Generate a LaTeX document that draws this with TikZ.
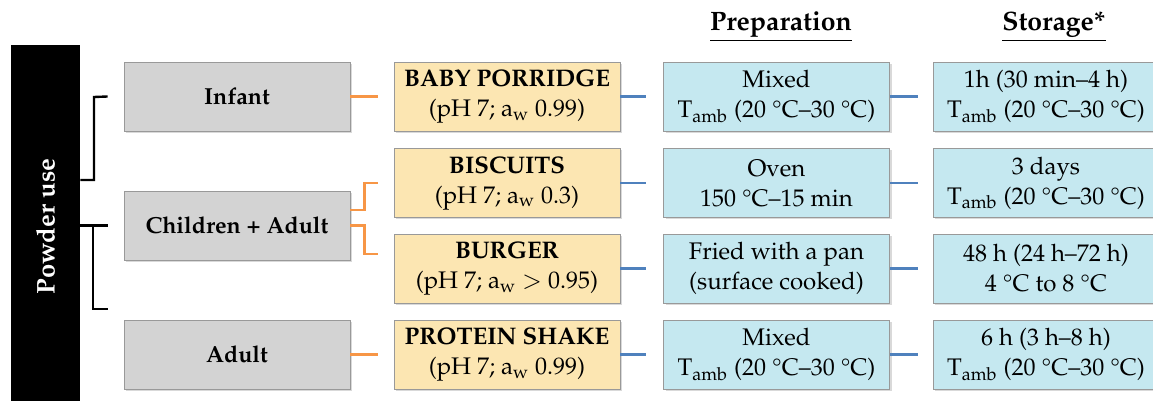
\documentclass[tikz,border=0pt]{standalone}
\usepackage[T1]{fontenc}
\usepackage{mathpazo}
\usepackage{tikz}
\usetikzlibrary{shadows}
\definecolor{boxgray}{RGB}{211,211,211}
\definecolor{boxyellow}{RGB}{252,230,178}
\definecolor{boxblue}{RGB}{197,232,240}
\definecolor{lineorange}{RGB}{247,150,70}
\definecolor{lineblue}{RGB}{79,129,189}

\begin{document}
\begin{tikzpicture}[x=0.5pt, y=-0.5pt,
		font=\fontsize{12}{15}\selectfont,
		box/.style={draw=black!40, minimum width=113pt, minimum height=34.5pt,
			align=center, inner sep=0pt,
			drop shadow={shadow xshift=1pt, shadow yshift=-1pt, opacity=0.3}},
		brk/.style={line width=1.2pt, black},
		org/.style={line width=1.2pt, lineorange},
		blu/.style={line width=1.2pt, lineblue}]
			\useasboundingbox (0,0) rectangle (1153,401);

			\node [fill=black, minimum width=34.5pt, minimum height=185pt, inner sep=0pt] (bar) at (45.5,230) {};
			\node [rotate=90, white, font=\fontsize{12.8}{15}\selectfont\bfseries] (pw) at (bar.center |- 0,226.5) {Powder use};

			\node [font=\fontsize{13.3}{16}\selectfont] (hprep) at (781,27) {\underline{\textbf{Preparation}}};
			\node [font=\fontsize{13.3}{16}\selectfont] (hsto) at (1054,27) {\underline{\textbf{Storage*}}};

			\node [box, fill=boxgray, font=\fontsize{11.6}{15}\selectfont\bfseries] (inf) at (237,96.5) {Infant};
			\node [box, fill=boxgray, font=\fontsize{11.6}{15}\selectfont\bfseries] (ca) at (237,225.5) {Children + Adult};
			\node [box, fill=boxgray, font=\fontsize{11.6}{15}\selectfont\bfseries] (adu) at (237,354.5) {Adult};

			\node [box, fill=boxyellow] (bp) at (507,96.5) {\textbf{BABY PORRIDGE}\\(pH 7; a\textsubscript{w} 0.99)};
			\node [box, fill=boxyellow] (bis) at (507,183) {\textbf{BISCUITS}\\(pH 7; a\textsubscript{w} 0.3)};
			\node [box, fill=boxyellow] (bur) at (507,268.5) {\textbf{BURGER}\\(pH 7; a\textsubscript{w} $>$ 0.95)};
			\node [box, fill=boxyellow] (ps) at (507,354.5) {\textbf{PROTEIN SHAKE}\\(pH 7; a\textsubscript{w} 0.99)};

			\node [box, fill=boxblue] (mix1) at (776.5,96.5) {Mixed\\T\textsubscript{amb} (20 \textdegree C--30 \textdegree C)};
			\node [box, fill=boxblue] (oven) at (776.5,183) {Oven\\150 \textdegree C--15 min};
			\node [box, fill=boxblue] (fry) at (776.5,268.5) {Fried with a pan\\(surface cooked)};
			\node [box, fill=boxblue] (mix2) at (776.5,354.5) {Mixed\\T\textsubscript{amb} (20 \textdegree C--30 \textdegree C)};

			\node [box, fill=boxblue] (st1) at (1046,96.5) {1h (30 min--4 h)\\T\textsubscript{amb} (20 \textdegree C--30 \textdegree C)};
			\node [box, fill=boxblue] (st2) at (1046,183) {3 days\\T\textsubscript{amb} (20 \textdegree C--30 \textdegree C)};
			\node [box, fill=boxblue] (st3) at (1046,268.5) {48 h (24 h--72 h)\\4 \textdegree C to 8 \textdegree C};
			\node [box, fill=boxblue] (st4) at (1046,354.5) {6 h (3 h--8 h)\\T\textsubscript{amb} (20 \textdegree C--30 \textdegree C)};

			\draw [brk] (bar.east |- 0,180) -| (94,97) -- ([xshift=-8pt]inf.west);
			\draw [brk] (bar.east |- ca.west) -- ([xshift=-8pt]ca.west);
			\draw [brk] (93,225.5) |- (108,309);

			\draw [org] (inf.east) -- ([xshift=-8pt]bp.west);
			\draw [org] ([yshift=7.75pt]ca.east) -- ++(7pt,0) |- ([xshift=-8pt]bis.west);
			\draw [org] (ca.east) -- ++(7pt,0) |- ([xshift=-8pt,yshift=7.25pt]bur.west);
			\draw [org] (adu.east) -- ([xshift=-8pt]ps.west);

			\draw [blu, shorten >=8.5pt] (bp) -- (mix1);
			\draw [blu, shorten >=8.5pt] (bis) -- (oven);
			\draw [blu, shorten >=8.5pt] (bur) -- (fry);
			\draw [blu, shorten >=8.5pt] (ps) -- (mix2);

			\draw [blu, shorten >=7.5pt] (mix1) -- (st1);
			\draw [blu, shorten >=7.5pt] (oven) -- (st2);
			\draw [blu, shorten >=7.5pt] (fry) -- (st3);
			\draw [blu, shorten >=7.5pt] (mix2) -- (st4);
		\end{tikzpicture}
\end{document}
